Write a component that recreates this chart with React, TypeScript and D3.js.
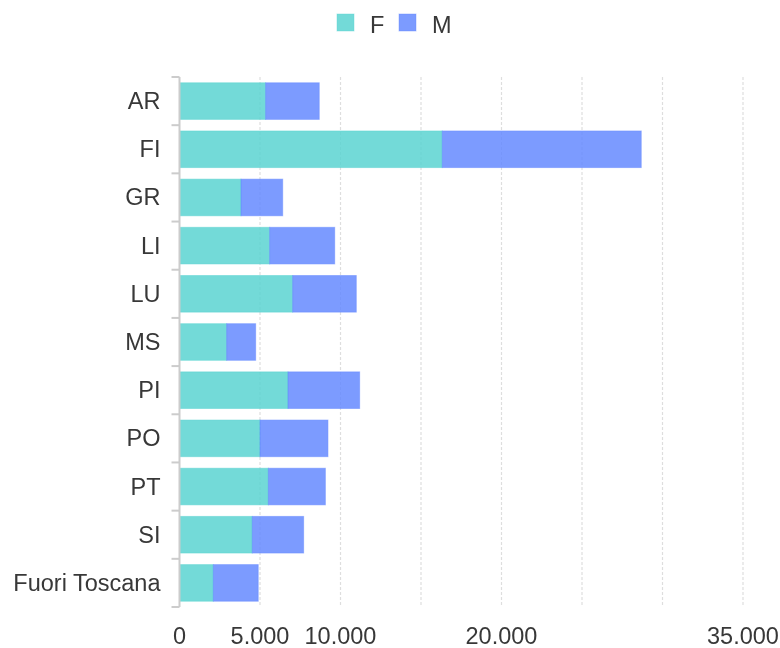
import React from "react";
import * as d3 from "d3";

// province codes down the y axis
const regions = ["AR", "FI", "GR", "LI", "LU", "MS", "PI", "PO", "PT", "SI", "Fuori Toscana"];

// stacked series
const femaleValues = [5350, 16320, 3820, 5600, 7030, 2930, 6740, 5000, 5520, 4520, 2100];
const maleValues = [3330, 12360, 2590, 4040, 3950, 1800, 4450, 4220, 3540, 3190, 2790];

const seriesNames = ["F", "M"];
const gridTicks = [0, 5000, 10000, 15000, 20000, 25000, 30000, 35000];
const labelTicks = [0, 5000, 10000, 20000, 35000];

const colors = ["#5ad3d1", "#658aff"];

export default function App() {
  const width = 780;
  const height = 648;
  const margin = { top: 77, bottom: 41, left: 179.5, right: 37 };
  const fontFamily = "'Liberation Sans', Arial, sans-serif";
  const fontSize = 23.5;
  const textColor = "#383838";

  const innerWidth = width - margin.left - margin.right;
  const innerHeight = height - margin.top - margin.bottom;

  const rows = regions.map((r, i) => ({ region: r, F: femaleValues[i], M: maleValues[i] }));
  const stacked = d3.stack<any>().keys(seriesNames)(rows);

  const xScale = d3.scaleLinear().domain([0, 35000]).range([0, innerWidth]);
  const yScale = d3.scaleBand().domain(regions).range([0, innerHeight]).paddingInner(0.24).paddingOuter(0.12);

  const fmt = (v: number) => d3.format(",")(v).replace(/,/g, ".");
  const step = yScale.step();
  const bandStart = (i: number) => i * step;

  return (
    <div style={{ position: "fixed", left: 0, top: 0 }}>
      <svg width={width} height={height} style={{ display: "block" }} fontFamily={fontFamily}>
        {/* legend */}
        <g>
          {seriesNames.map((name, i) => {
            const x = i === 0 ? 337 : 399;
            return (
              <g key={name}>
                <rect x={x} y={14} width={17} height={17} fill={colors[i]} fillOpacity={0.85}
                  stroke={colors[i]} strokeOpacity={0.4} />
                <text x={x + 33} y={32.5} fontSize={fontSize} fill={textColor}>{name}</text>
              </g>
            );
          })}
        </g>

        <g transform={`translate(${margin.left},${margin.top})`}>
          {/* vertical grid */}
          {gridTicks.slice(1).map((t) => (
            <line key={t} x1={xScale(t)} x2={xScale(t)} y1={0} y2={innerHeight}
              stroke="#dedede" strokeWidth={1.2} strokeDasharray="3,2" />
          ))}

          {/* bars */}
          {stacked.map((s, si) => (
            <g key={s.key}>
              {s.map((d, i) => (
                <rect key={regions[i]}
                  x={xScale(d[0])}
                  y={yScale(regions[i])}
                  width={xScale(d[1]) - xScale(d[0])}
                  height={yScale.bandwidth()}
                  fill={colors[si]} fillOpacity={0.85}
                  stroke={colors[si]} strokeOpacity={0.5} strokeWidth={1} />
              ))}
            </g>
          ))}

          {/* y axis */}
          <line x1={0} x2={0} y1={0} y2={innerHeight} stroke="#cccccc" strokeWidth={2} />
          {d3.range(regions.length + 1).map((i) => (
            <line key={i} x1={-8} x2={0} y1={bandStart(i)} y2={bandStart(i)} stroke="#cccccc" strokeWidth={2} />
          ))}
          {regions.map((r) => (
            <text key={r} x={-19} y={(yScale(r) ?? 0) + yScale.bandwidth() / 2}
              textAnchor="end" dominantBaseline="central" fontSize={fontSize} fill={textColor}>{r}</text>
          ))}

          {/* x labels */}
          {labelTicks.map((t) => (
            <text key={t} x={xScale(t)} y={innerHeight + 36.5} textAnchor="middle" fontSize={fontSize} fill={textColor}>
              {fmt(t)}
            </text>
          ))}
        </g>
      </svg>
    </div>
  );
}
